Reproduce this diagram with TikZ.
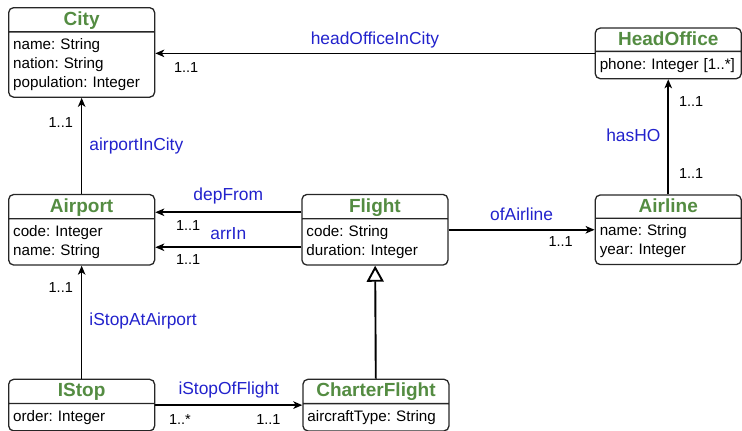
\documentclass[tikz,border=0pt]{standalone}
\usepackage{fontspec}
\setmainfont{Liberation Sans}
\usetikzlibrary{positioning,shapes.multipart,arrows.meta}

\definecolor{titlegreen}{RGB}{84,140,66}
\definecolor{roleblue}{RGB}{34,34,204}

\newcommand{\cname}[1]{\hfill\textcolor{titlegreen}{\fontsize{19}{23}\selectfont\bfseries\rule[-3pt]{0pt}{18pt}#1}\hfill\null}
\newcommand{\attrs}[1]{\nodepart{two}\frenchspacing\rule{0pt}{15pt}#1\rule[-7pt]{0pt}{7pt}}

\tikzset{
  umlclass/.style={rectangle split, rectangle split parts=2, draw=black!85,
    line width=1.3pt, rounded corners=5pt, text width=137pt, inner xsep=4.5pt,
    inner ysep=2pt, align=left, font=\fontsize{15.2}{19}\selectfont},
  assoc/.style={-{Stealth[length=9pt,width=7.5pt,inset=2.5pt]}, line width=1.6pt},
  gen/.style={-{Triangle[open,length=16pt,width=17pt]}, line width=1.9pt},
  role/.style={text=roleblue, font=\fontsize{17.4}{20}\selectfont, inner sep=0pt},
  mult/.style={font=\fontsize{14.5}{17}\selectfont, inner sep=0pt},
}

\begin{document}
\begin{tikzpicture}[x=1pt,y=1pt]
\useasboundingbox (0,0) rectangle (742,-431);
% Nodes
% classes
\node[umlclass, anchor=north west](city) at (8,-7)
  {\cname{City}\attrs{name: String\\ nation: String\\ population: Integer}};
\node[umlclass, below = 96pt of city](airport)
  {\cname{Airport}\attrs{code: Integer\\ name: String}};
\node[umlclass, right = 146pt of airport](flight)
  {\cname{Flight}\attrs{code: String\\ duration: Integer}};
\node[umlclass, right = 146pt of flight](airline)
  {\cname{Airline}\attrs{name: String\\ year: Integer}};
\node[umlclass, above = 115pt of airline](headoffice)
  {\cname{HeadOffice}\attrs{phone: Integer [1..*]}};
\node[umlclass, below = 113pt of airport](istop)
  {\cname{IStop}\attrs{order: Integer}};
\node[umlclass, right = 147pt of istop](charter)
  {\cname{CharterFlight}\attrs{aircraftType: String}};

% associations
\draw[assoc] (headoffice.west) -- (headoffice.west -| city.east)
  node[role, midway, anchor=base, yshift=9pt](hoic){headOfficeInCity}
  node[mult, pos=1, anchor=base west, xshift=18pt, yshift=-19pt](hoicm){1..1};
\draw[assoc] (airport) -- (city)
  node[role, pos=0.448, anchor=base west, xshift=7pt](aic){airportInCity}
  node[mult, pos=0.6875, anchor=base east, xshift=-8pt](aicm){1..1};
\draw[assoc] (airline.north) -- (airline.north |- headoffice.south)
  node[mult, pos=0.139, anchor=base west, xshift=10pt](hhoa){1..1}
  node[role, pos=0.461, anchor=base east, xshift=-7pt](hho){hasHO}
  node[mult, pos=0.765, anchor=base west, xshift=10pt](hhob){1..1};
\draw[assoc] ([yshift=17.5pt]flight.west) -- ([yshift=17.5pt]airport.east)
  node[role, midway, anchor=base, yshift=12pt](dep){depFrom}
  node[mult, pos=1, anchor=base west, xshift=20pt, yshift=-18pt](depm){1..1};
\draw[assoc] ([yshift=-17.5pt]flight.west) -- ([yshift=-17.5pt]airport.east)
  node[role, midway, anchor=base, yshift=8pt](arr){arrIn}
  node[mult, pos=1, anchor=base west, xshift=20pt, yshift=-17pt](arrm){1..1};
\draw[assoc] (flight) -- (airline)
  node[role, midway, anchor=base, yshift=9pt](ofa){ofAirline}
  node[mult, pos=1, anchor=base east, xshift=-21pt, yshift=-17pt](ofam){1..1};
\draw[assoc] (istop) -- (airport)
  node[role, pos=0.469, anchor=base west, xshift=7pt](isa){iStopAtAirport}
  node[mult, pos=0.761, anchor=base east, xshift=-8pt](isam){1..1};
\draw[assoc] (istop) -- (charter)
  node[role, midway, anchor=base, yshift=11pt](isf){iStopOfFlight}
  node[mult, pos=0, anchor=base west, xshift=13pt, yshift=-19pt](isfa){1..*}
  node[mult, pos=1, anchor=base east, xshift=-21pt, yshift=-19pt](isfb){1..1};

% generalization
\draw[gen] (charter) -- (flight);

\end{tikzpicture}
\end{document}
